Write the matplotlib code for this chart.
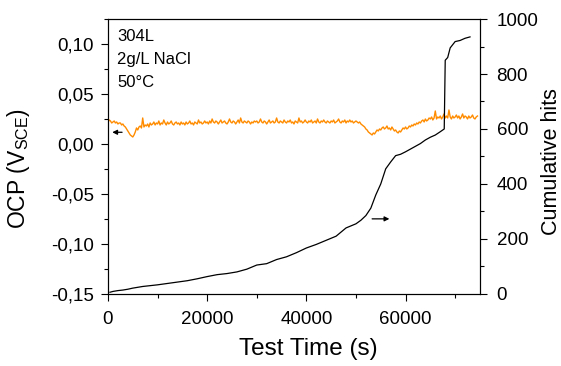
import matplotlib
matplotlib.use("Agg")
import matplotlib.pyplot as plt
from matplotlib.ticker import FuncFormatter, MultipleLocator
import numpy as np

plt.rcParams['font.family'] = ['Liberation Sans', 'DejaVu Sans']
plt.rcParams['mathtext.fontset'] = 'custom'
plt.rcParams['mathtext.rm'] = 'Liberation Sans'

# OCP trace, sampled every 250 s
ocp_step = 250
ocp = [
    0.022, 0.024, 0.023, 0.021, 0.022, 0.023, 0.021, 0.022, 0.020, 0.021, 0.021, 0.019, 0.020, 0.018, 0.017, 0.015, 0.013, 0.011, 0.009, 0.008,
    0.007, 0.009, 0.012, 0.016, 0.014, 0.017, 0.018, 0.016, 0.026, 0.017, 0.019, 0.018, 0.020, 0.017, 0.021, 0.019, 0.020, 0.022, 0.019, 0.021,
    0.020, 0.023, 0.019, 0.021, 0.020, 0.024, 0.021, 0.019, 0.022, 0.020, 0.021, 0.023, 0.020, 0.019, 0.021, 0.022, 0.020, 0.021, 0.019, 0.022,
    0.020, 0.021, 0.019, 0.022, 0.020, 0.021, 0.023, 0.020, 0.021, 0.019, 0.022, 0.021, 0.020, 0.024, 0.021, 0.022, 0.020, 0.021, 0.023, 0.021,
    0.022, 0.020, 0.023, 0.021, 0.025, 0.022, 0.021, 0.023, 0.022, 0.020, 0.022, 0.024, 0.021, 0.022, 0.023, 0.021, 0.020, 0.022, 0.025, 0.022,
    0.021, 0.023, 0.022, 0.020, 0.022, 0.024, 0.021, 0.026, 0.022, 0.021, 0.023, 0.022, 0.021, 0.023, 0.022, 0.020, 0.022, 0.021, 0.023, 0.022,
    0.023, 0.021, 0.022, 0.025, 0.022, 0.021, 0.023, 0.022, 0.020, 0.022, 0.024, 0.021, 0.022, 0.023, 0.021, 0.022, 0.026, 0.022, 0.021, 0.023,
    0.022, 0.021, 0.024, 0.022, 0.021, 0.023, 0.022, 0.024, 0.021, 0.022, 0.020, 0.023, 0.022, 0.021, 0.026, 0.022, 0.023, 0.021, 0.022, 0.024,
    0.022, 0.021, 0.023, 0.022, 0.024, 0.021, 0.022, 0.023, 0.021, 0.025, 0.022, 0.021, 0.023, 0.022, 0.024, 0.022, 0.021, 0.023, 0.022, 0.021,
    0.023, 0.022, 0.024, 0.021, 0.022, 0.023, 0.025, 0.022, 0.021, 0.023, 0.022, 0.024, 0.021, 0.023, 0.022, 0.024, 0.022, 0.023, 0.021, 0.022,
    0.023, 0.022, 0.021, 0.022, 0.020, 0.019, 0.018, 0.017, 0.015, 0.014, 0.012, 0.011, 0.010, 0.009, 0.011, 0.010, 0.012, 0.014, 0.013, 0.015,
    0.014, 0.016, 0.017, 0.015, 0.016, 0.018, 0.015, 0.016, 0.014, 0.017, 0.015, 0.013, 0.014, 0.012, 0.011, 0.013, 0.012, 0.014, 0.016, 0.015,
    0.017, 0.015, 0.016, 0.018, 0.017, 0.019, 0.018, 0.020, 0.019, 0.021, 0.020, 0.022, 0.021, 0.023, 0.024, 0.022, 0.025, 0.023, 0.024, 0.026,
    0.025, 0.027, 0.024, 0.026, 0.033, 0.025, 0.027, 0.026, 0.028, 0.025, 0.027, 0.030, 0.026, 0.028, 0.026, 0.034, 0.027, 0.025, 0.028, 0.026,
    0.027, 0.029, 0.026, 0.028, 0.025, 0.027, 0.030, 0.026, 0.028, 0.027, 0.025, 0.028, 0.026, 0.027, 0.029, 0.026, 0.025, 0.027, 0.028,
]
ocp_time = np.arange(len(ocp)) * ocp_step

# cumulative acoustic emission hits
hit_time = [400, 1000, 2000, 3000, 4000, 5000, 6000, 7000, 8000, 9000, 10000,
            12000, 14000, 16000, 18000, 20000, 22000, 24000, 26000, 28000, 30000,
            32000, 34000, 36000, 38000, 40000, 42000, 44000, 46000, 48000, 50000,
            51000, 52000, 53000, 54000, 55000, 56000, 57000, 58000, 59000, 60000,
            61000, 62000, 63000, 64000, 65000, 66000, 67000, 67800, 68000, 68500,
            69000, 70000, 71000, 72000, 73000]
hits = [6, 9, 12, 14, 17, 21, 24, 27, 29, 31, 33,
        38, 43, 48, 55, 63, 70, 74, 80, 90, 105,
        110, 125, 135, 150, 167, 180, 195, 210, 240, 255,
        268, 285, 312, 360, 400, 455, 480, 503, 508, 517,
        527, 537, 547, 560, 570, 578, 590, 600, 850, 860,
        895, 918, 922, 930, 935]

notes = ["304L", "2g/L NaCl", "50°C"]


def comma(v, pos):
    return ("%.2f" % v).replace(".", ",")


fig = plt.figure(figsize=(5.61, 3.66), dpi=100)
ax = fig.add_axes([0.1925, 0.197, 0.663, 0.751])
ax2 = ax.twinx()

ax.plot(ocp_time, ocp, color='#ff8c00', lw=1.0)
ax2.plot(hit_time, hits, color='black', lw=0.9)

ax.set_xlim(0, 75000)
ax.set_ylim(-0.15, 0.125)
ax2.set_ylim(0, 1000)

ax.xaxis.set_major_locator(MultipleLocator(20000))
ax.xaxis.set_minor_locator(MultipleLocator(10000))
ax.yaxis.set_major_locator(MultipleLocator(0.05))
ax.yaxis.set_minor_locator(MultipleLocator(0.025))
ax.yaxis.set_major_formatter(FuncFormatter(comma))
ax2.yaxis.set_major_locator(MultipleLocator(200))
ax2.yaxis.set_minor_locator(MultipleLocator(100))

for a in (ax, ax2):
    a.tick_params(which='major', direction='out', length=5, width=0.8, labelsize=13.5)
    a.tick_params(which='minor', direction='out', length=3, width=0.8)
ax.tick_params(axis='x', pad=7)
ax.tick_params(axis='y', pad=5)
ax2.tick_params(axis='y', pad=7)

ax.set_xlabel("Test Time (s)", fontsize=17.5)
ax.set_ylabel(r"OCP (V$_{\mathregular{SCE}}$)", fontsize=16.5)
ax2.set_ylabel("Cumulative hits", fontsize=15.5)
ax.xaxis.set_label_coords(0.538, -0.16)
ax.yaxis.set_label_coords(-0.205, 0.455)
ax2.yaxis.set_label_coords(1.163, 0.48)

for i, s in enumerate(notes):
    ax.text(0.025, 0.965 - i * 0.084, s, transform=ax.transAxes, va='top', ha='left',
            fontsize=12)

ax.annotate("", xy=(300, 0.0117), xytext=(3400, 0.0117),
            arrowprops=dict(arrowstyle='-|>', color='black', lw=0.9, mutation_scale=7))
ax2.annotate("", xy=(57300, 273), xytext=(52700, 273),
             arrowprops=dict(arrowstyle='-|>', color='black', lw=0.9, mutation_scale=7))

plt.savefig("out.png", dpi=100)
